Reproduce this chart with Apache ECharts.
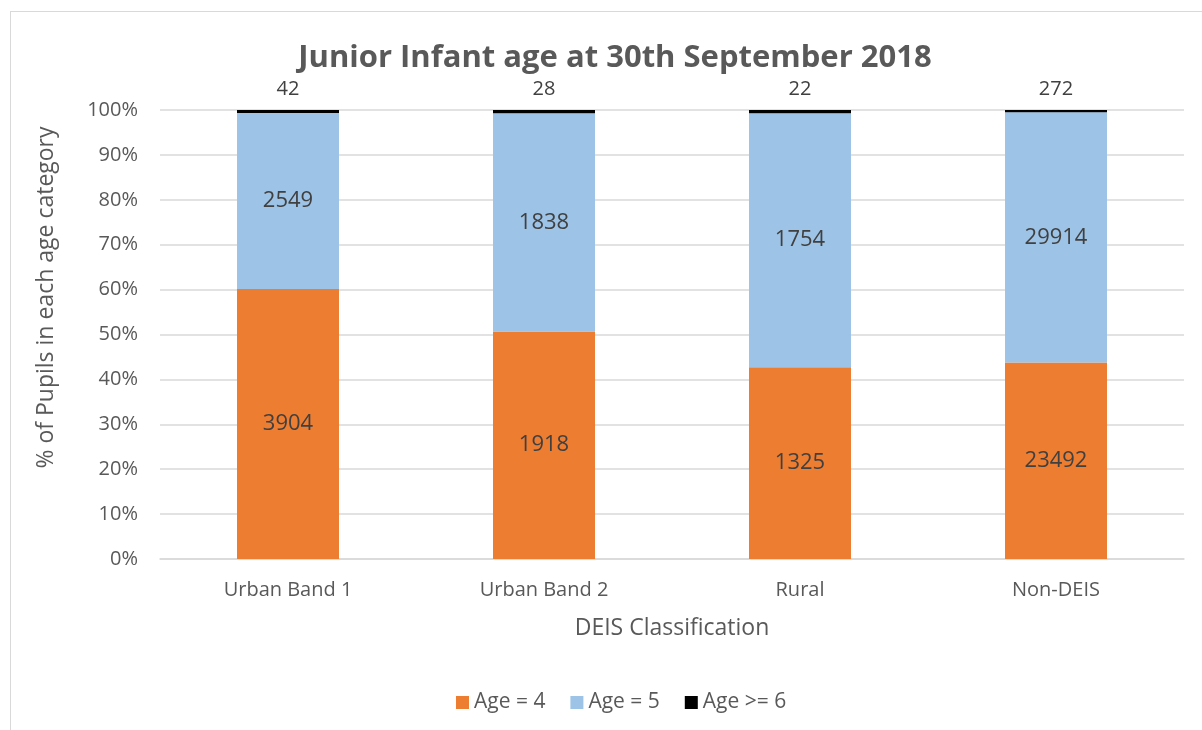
<!DOCTYPE html>
<html>
<head>
<meta charset="utf-8">
<script src="https://cdn.jsdelivr.net/npm/echarts@6/dist/echarts.min.js"></script>
<style>
html,body{margin:0;padding:0;background:#fff;}
#frame{position:absolute;left:10px;top:11px;width:1240px;height:760px;border:1.5px solid #D9D9D9;box-sizing:border-box;}
#chart{position:absolute;left:0;top:0;width:1202px;height:730px;}
</style>
</head>
<body>
<div id="frame"></div>
<div id="chart"></div>
<script>
const categories = ['Urban Band 1', 'Urban Band 2', 'Rural', 'Non-DEIS'];
const age4 = [3904, 1918, 1325, 23492];
const age5 = [2549, 1838, 1754, 29914];
const age6plus = [42, 28, 22, 272];
const yTicks = [0, 10, 20, 30, 40, 50, 60, 70, 80, 90, 100];

const totals = categories.map((c, i) => age4[i] + age5[i] + age6plus[i]);
const pct = arr => arr.map((v, i) => ({ value: v / totals[i] * 100, count: v }));

const FONT = 'Open Sans';
const TXT = '#595959';

const chart = echarts.init(document.getElementById('chart'), null, { renderer: 'canvas' });
chart.setOption({
  animation: false,
  textStyle: { fontFamily: FONT, color: TXT },
  title: {
    text: 'Junior Infant age at 30th September 2018',
    left: 610, top: 38, textAlign: 'center',
    textStyle: { fontFamily: FONT, fontWeight: 'bold', fontSize: 31, color: TXT }
  },
  legend: {
    bottom: 12, left: 451,
    icon: 'rect', itemWidth: 13, itemHeight: 13, itemGap: 25,
    textStyle: { fontFamily: FONT, fontSize: 21, color: TXT },
    data: ['Age = 4', 'Age = 5', 'Age >= 6']
  },
  grid: { left: 160, right: 18, top: 110, bottom: 171, containLabel: false },
  xAxis: {
    type: 'category', data: categories,
    name: 'DEIS Classification', nameLocation: 'middle', nameGap: 58,
    nameTextStyle: { fontFamily: FONT, fontSize: 23, color: TXT },
    axisLine: { lineStyle: { color: '#D9D9D9', width: 1.5 } },
    axisTick: { show: false },
    axisLabel: { fontFamily: FONT, fontSize: 20, color: TXT, margin: 21 }
  },
  yAxis: {
    type: 'value', min: yTicks[0], max: yTicks[yTicks.length - 1], interval: 10,
    name: '% of Pupils in each age category', nameLocation: 'middle', nameGap: 102,
    nameTextStyle: { fontFamily: FONT, fontSize: 23, color: TXT, padding: [0, 0, 0, 74] },
    axisLine: { show: false }, axisTick: { show: false },
    splitLine: { lineStyle: { color: '#D9D9D9', width: 1.5 } },
    axisLabel: { fontFamily: FONT, fontSize: 20, color: TXT, margin: 22, formatter: '{value}%' }
  },
  series: [
    {
      name: 'Age = 4', type: 'bar', stack: 'a', barWidth: 102,
      itemStyle: { color: '#ED7D31' },
      label: { show: true, position: 'inside', fontFamily: FONT, fontSize: 22, color: '#404040',
        formatter: p => p.data.count },
      data: pct(age4)
    },
    {
      name: 'Age = 5', type: 'bar', stack: 'a', barWidth: 102,
      itemStyle: { color: '#9DC3E6' },
      label: { show: true, position: 'inside', fontFamily: FONT, fontSize: 22, color: '#404040',
        formatter: p => p.data.count },
      data: pct(age5)
    },
    {
      name: 'Age >= 6', type: 'bar', stack: 'a', barWidth: 102,
      itemStyle: { color: '#000000' },
      label: { show: true, position: 'top', distance: 11, fontFamily: FONT, fontSize: 20, color: '#404040',
        formatter: p => p.data.count },
      data: pct(age6plus)
    }
  ]
});
</script>
</body>
</html>
